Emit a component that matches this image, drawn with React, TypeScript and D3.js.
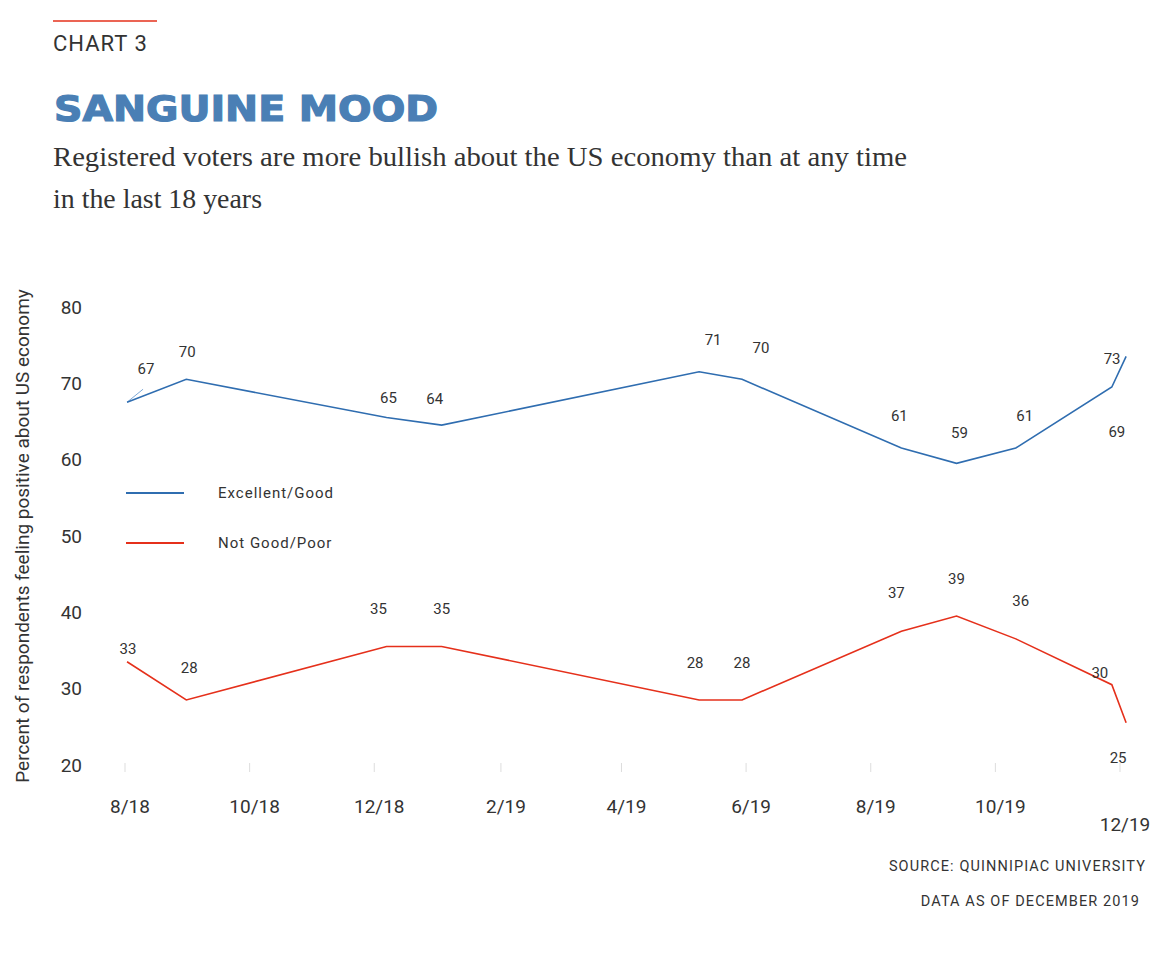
import React from "react";
import * as d3 from "d3";

const pollDates = [
  "2018-08-02", "2018-08-31", "2018-12-07", "2019-01-03", "2019-05-09",
  "2019-05-30", "2019-08-16", "2019-09-12", "2019-10-11", "2019-11-27", "2019-12-04",
];
const excellentGood = [67, 70, 65, 64, 71, 70, 61, 59, 61, 69, 73];
const notGoodPoor = [33, 28, 35, 35, 28, 28, 37, 39, 36, 30, 25];

// label offsets (px) relative to each point
const goodLabelOffsets: [number, number][] = [
  [19, -33], [1, -28], [2, -20], [-7, -26], [14, -32], [19, -32],
  [-2, -32], [3, -31], [9, -32], [5, 45], [-14, 2],
];
const poorLabelOffsets: [number, number][] = [
  [1, -13], [3, -32], [-8, -38], [0, -38], [-4, -37], [0, -37],
  [-5, -38], [0, -37], [5, -38], [-12, -12], [-8, 35],
];

const yTicks = [20, 30, 40, 50, 60, 70, 80];
const xTickDates = [
  "2018-08-01", "2018-10-01", "2018-12-01", "2019-02-01", "2019-04-01",
  "2019-06-01", "2019-08-01", "2019-10-01", "2019-12-01",
];
const xTickLabels = ["8/18", "10/18", "12/18", "2/19", "4/19", "6/19", "8/19", "10/19", "12/19"];

const BLUE = "#2f6db0";
const RED = "#e5301b";
const TEXT = "#333";
const SANS = "Roboto, 'Noto Sans', sans-serif";

export default function App() {
  const parse = (s: string) => new Date(s + "T00:00:00Z");
  const x = d3
    .scaleUtc()
    .domain([parse("2018-08-01"), parse("2019-12-01")])
    .range([125, 1120]);
  const y = d3.scaleLinear().domain([20, 80]).range([761, 303]);

  const dates = pollDates.map(parse);
  const line = d3
    .line<number>()
    .x((_, i) => x(dates[i]))
    .y((d) => y(d));

  const series = [
    { values: excellentGood, color: BLUE, offsets: goodLabelOffsets },
    { values: notGoodPoor, color: RED, offsets: poorLabelOffsets },
  ];

  return (
    <svg
      width={1164}
      height={956}
      style={{ position: "absolute", left: 0, top: 0, background: "#fff" }}
    >
      {/* header */}
      <line x1={53} x2={157} y1={21} y2={21} stroke={RED} strokeWidth={1.5} />
      <text x={53} y={51} fontFamily={SANS} fontSize={22} fill={TEXT} letterSpacing={1}>
        CHART 3
      </text>
      <text
        x={54}
        y={121}
        fontFamily="'DejaVu Sans', sans-serif"
        fontWeight="bold"
        fontSize={35}
        fill="#4a7fb5"
        stroke="#4a7fb5"
        strokeWidth={1.2}
        textLength={384}
        lengthAdjust="spacingAndGlyphs"
      >
        SANGUINE MOOD
      </text>
      <text
        x={53}
        y={166}
        fontFamily="'Liberation Serif', serif"
        fontSize={28}
        fill={TEXT}
        textLength={854}
        lengthAdjust="spacingAndGlyphs"
      >
        Registered voters are more bullish about the US economy than at any time
      </text>
      <text
        x={53}
        y={208}
        fontFamily="'Liberation Serif', serif"
        fontSize={28}
        fill={TEXT}
        textLength={209}
        lengthAdjust="spacingAndGlyphs"
      >
        in the last 18 years
      </text>

      {/* y axis */}
      <text
        transform="translate(29,536) rotate(-90)"
        textAnchor="middle"
        fontFamily={SANS}
        fontSize={19}
        fill={TEXT}
      >
        Percent of respondents feeling positive about US economy
      </text>
      {yTicks.map((t) => (
        <text
          key={t}
          x={82}
          y={y(t) + 4}
          dy="0.35em"
          textAnchor="end"
          fontFamily={SANS}
          fontSize={19}
          fill={TEXT}
        >
          {t}
        </text>
      ))}

      {/* x axis */}
      {xTickDates.map((d, i) => {
        const xp = x(parse(d));
        const last = i === xTickDates.length - 1;
        return (
          <g key={d}>
            <line x1={xp} x2={xp} y1={763} y2={772} stroke="#ddd" strokeWidth={1} />
            <text
              x={xp + 5}
              y={last ? 824 : 806}
              dy="0.35em"
              textAnchor="middle"
              fontFamily={SANS}
              fontSize={19}
              fill={TEXT}
            >
              {xTickLabels[i]}
            </text>
          </g>
        );
      })}

      {/* leader line for first label */}
      <line
        x1={x(dates[0])}
        y1={y(excellentGood[0])}
        x2={x(dates[0]) + 16}
        y2={y(excellentGood[0]) - 13}
        stroke="#7ea9d8"
        strokeWidth={1}
      />

      {series.map((s, si) => (
        <g key={si}>
          <path d={line(s.values) || ""} fill="none" stroke={s.color} strokeWidth={1.6} />
          {s.values.map((v, i) => (
            <text
              key={i}
              x={x(dates[i]) + s.offsets[i][0]}
              y={y(v) + s.offsets[i][1]}
              dy="0.35em"
              textAnchor="middle"
              fontFamily={SANS}
              fontSize={15}
              fill={TEXT}
            >
              {v}
            </text>
          ))}
        </g>
      ))}

      {/* legend */}
      <line x1={126} x2={184} y1={493} y2={493} stroke={BLUE} strokeWidth={2} />
      <text x={218} y={493} dy="0.35em" fontFamily={SANS} fontSize={15} fill={TEXT} letterSpacing={1}>
        Excellent/Good
      </text>
      <line x1={126} x2={184} y1={543} y2={543} stroke={RED} strokeWidth={2} />
      <text x={218} y={543} dy="0.35em" fontFamily={SANS} fontSize={15} fill={TEXT} letterSpacing={1}>
        Not Good/Poor
      </text>

      {/* source */}
      <text x={1146} y={866} dy="0.35em" textAnchor="end" fontFamily={SANS} fontSize={14.5} fill={TEXT} letterSpacing={1.1}>
        SOURCE: QUINNIPIAC UNIVERSITY
      </text>
      <text x={1140} y={901} dy="0.35em" textAnchor="end" fontFamily={SANS} fontSize={14.5} fill={TEXT} letterSpacing={1.1}>
        DATA AS OF DECEMBER 2019
      </text>
    </svg>
  );
}
